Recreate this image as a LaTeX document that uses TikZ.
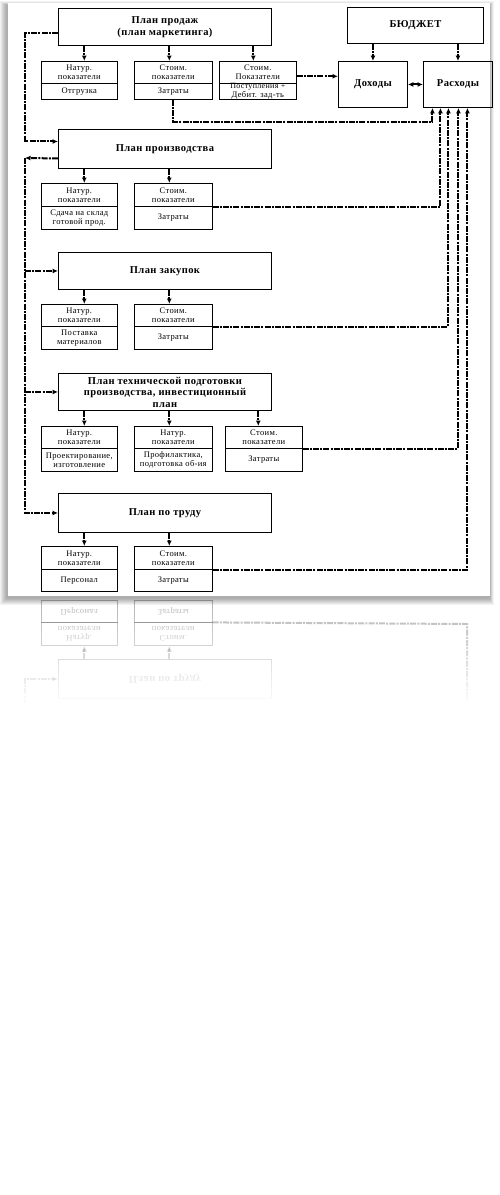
\documentclass[tikz,border=0pt]{standalone}
\usepackage{fontspec}
\setmainfont{Liberation Serif}
\newfontfamily\cellfont[LetterSpace=4]{Liberation Serif}
\newfontfamily\headfont[LetterSpace=4]{Liberation Serif}
\usetikzlibrary{arrows.meta,fadings}

\tikzset{
  x=1pt,y=-1pt,
  head/.style={draw,line width=0.9pt,inner sep=1pt,align=center,anchor=north west,
    font=\headfont\bfseries\fontsize{10.5}{11.5}\selectfont},
  cell/.style={draw,line width=0.6pt,inner sep=0pt,align=center,anchor=north west,
    font=\cellfont\fontsize{8.5}{9}\selectfont},
  link/.style={line width=2pt,dash pattern=on 6pt off 1.2pt on 2pt off 1.2pt},
  tip/.style={-{Latex[length=5.5pt,width=5pt]}},
  both/.style={{Latex[length=5.5pt,width=5pt]}-{Latex[length=5.5pt,width=5pt]}},
}

\newcommand\headbox[6]{\node[head,minimum width={#4-#2},minimum height={#5-#3}] (#1) at (#2,#3) {#6};}
\newcommand\cellpair[8]{%
  \node[cell,minimum width={#3-#2},minimum height={#5-#4}] (#1t) at (#2,#4) {#7};
  \node[cell,minimum width={#3-#2},minimum height={#6-#5}] (#1b) at (#2,#5) {#8};}

\newcommand\trudpart[1]{%
  \headbox{trud#1}{58}{493}{271}{532}{План по труду}
  \cellpair{ra#1}{41}{117}{546}{569}{591}{Натур.\\показатели}{Персонал}
  \cellpair{rb#1}{134}{212}{546}{569}{591}{Стоим.\\показатели}{Затраты}
  \draw[link,tip] ([xshift=5pt]ra#1t.north |- trud#1.south) -- ([xshift=5pt]ra#1t.north);
  \draw[link,tip] ([xshift=-4pt]rb#1t.north |- trud#1.south) -- ([xshift=-4pt]rb#1t.north);
}

\begin{document}
\begin{tikzpicture}
\useasboundingbox (0,0) rectangle (499,1195);
\fill[white] (0,0) rectangle (499,1195);

% page shadow
\foreach \i in {0,...,6}{
  \fill[black,opacity=0.05] ({6-\i},{5-\i*0.6}) rectangle ({490+\i*0.6},{599+\i});
}
\fill[white] (8,3) rectangle (490,596);

% reflection
\begin{scope}
  \clip (0,598) rectangle (499,704);
  \begin{scope}[yshift=-1192pt,yscale=-1,transform shape,opacity=0.3]
    \trudpart{r}
    \draw[link] (rbrt.south east) -- (467,568) -- (467,300);
    \draw[link,tip] (25,300) |- (trudr.west);
  \end{scope}
\end{scope}
\fill[white,path fading=north] (0,598) rectangle (499,706);

% main headers
\headbox{sales}{58}{8}{271}{45}{План продаж\\(план маркетинга)}
\headbox{budget}{347}{7}{483}{43}{БЮДЖЕТ}
\headbox{dokh}{338}{61}{407}{107}{Доходы}
\headbox{rask}{423}{61}{492}{107}{Расходы}
\headbox{proizv}{58}{129}{271}{168}{План производства}
\headbox{zak}{58}{252}{271}{289}{План закупок}
\headbox{tech}{58}{373}{271}{410}{План технической подготовки\\производства, инвестиционный\\план}

% cells
\cellpair{sa}{41}{117}{61}{83}{99}{Натур.\\показатели}{Отгрузка}
\cellpair{sb}{134}{212}{61}{83}{99}{Стоим.\\показатели}{Затраты}
\cellpair{sc}{219}{296}{61}{83}{99}{Стоим.\\Показатели}{\fontsize{8}{7.5}\selectfont Поступления +\\Дебит. зад-ть}
\cellpair{pa}{41}{117}{183}{206}{229}{Натур.\\показатели}{Сдача на склад\\готовой прод.}
\cellpair{pb}{134}{212}{183}{206}{229}{Стоим.\\показатели}{Затраты}
\cellpair{za}{41}{117}{304}{326}{349}{Натур.\\показатели}{Поставка\\материалов}
\cellpair{zb}{134}{212}{304}{326}{349}{Стоим.\\показатели}{Затраты}
\cellpair{ta}{41}{117}{426}{448}{471}{Натур.\\показатели}{Проектирование,\\изготовление}
\cellpair{tb}{134}{212}{426}{448}{471}{Натур.\\показатели}{Профилактика,\\подготовка об-ия}
\cellpair{tc}{225}{302}{426}{448}{471}{Стоим.\\показатели}{Затраты}
\trudpart{}

% arrows from headers to cells
\foreach \h/\c/\s in {sales/sa/5,sales/sb/-4,sales/sc/-4.5,proizv/pa/5,proizv/pb/-4,zak/za/5,zak/zb/-4,tech/ta/5,tech/tb/-4,tech/tc/-5.5}{
  \draw[link,tip] ([xshift=\s pt]\c t.north |- \h.south) -- ([xshift=\s pt]\c t.north);
}
\draw[link,tip] (dokh.north |- budget.south) -- (dokh.north);
\draw[link,tip] (rask.north |- budget.south) -- (rask.north);
\draw[link,tip] ([yshift=-4pt]sct.east) -- ([yshift=-4pt]sct.east -| dokh.west);
\draw[line width=2pt,both] (dokh.east) -- (dokh.east -| rask.west);

% costs into Расходы
\draw[link,tip] (sbb.south) -- ++(0,22) -| ([xshift=-25.5pt]rask.south);
\draw[link,tip] (pbt.south east) -| ([xshift=-17.5pt]rask.south);
\draw[link,tip] (zbt.south east) -| ([xshift=-9.5pt]rask.south);
\draw[link,tip] (tct.south east) -| ([xshift=0.5pt]rask.south);
\draw[link,tip] (rbt.south east) -| ([xshift=9.5pt]rask.south);

% left distribution lines
\draw[link,tip] ([yshift=-6.5pt]sales.west) -- ++(-33,0) |- ([yshift=7.5pt]proizv.west);
\coordinate (lc) at (25,158);
\draw[link,tip] ([yshift=-9.5pt]proizv.west) -- (lc);
\draw[link,tip] (lc) |- (trud.west);
\draw[link,tip] (lc |- zak.west) -- (zak.west);
\draw[link,tip] (lc |- tech.west) -- (tech.west);
\end{tikzpicture}
\end{document}
